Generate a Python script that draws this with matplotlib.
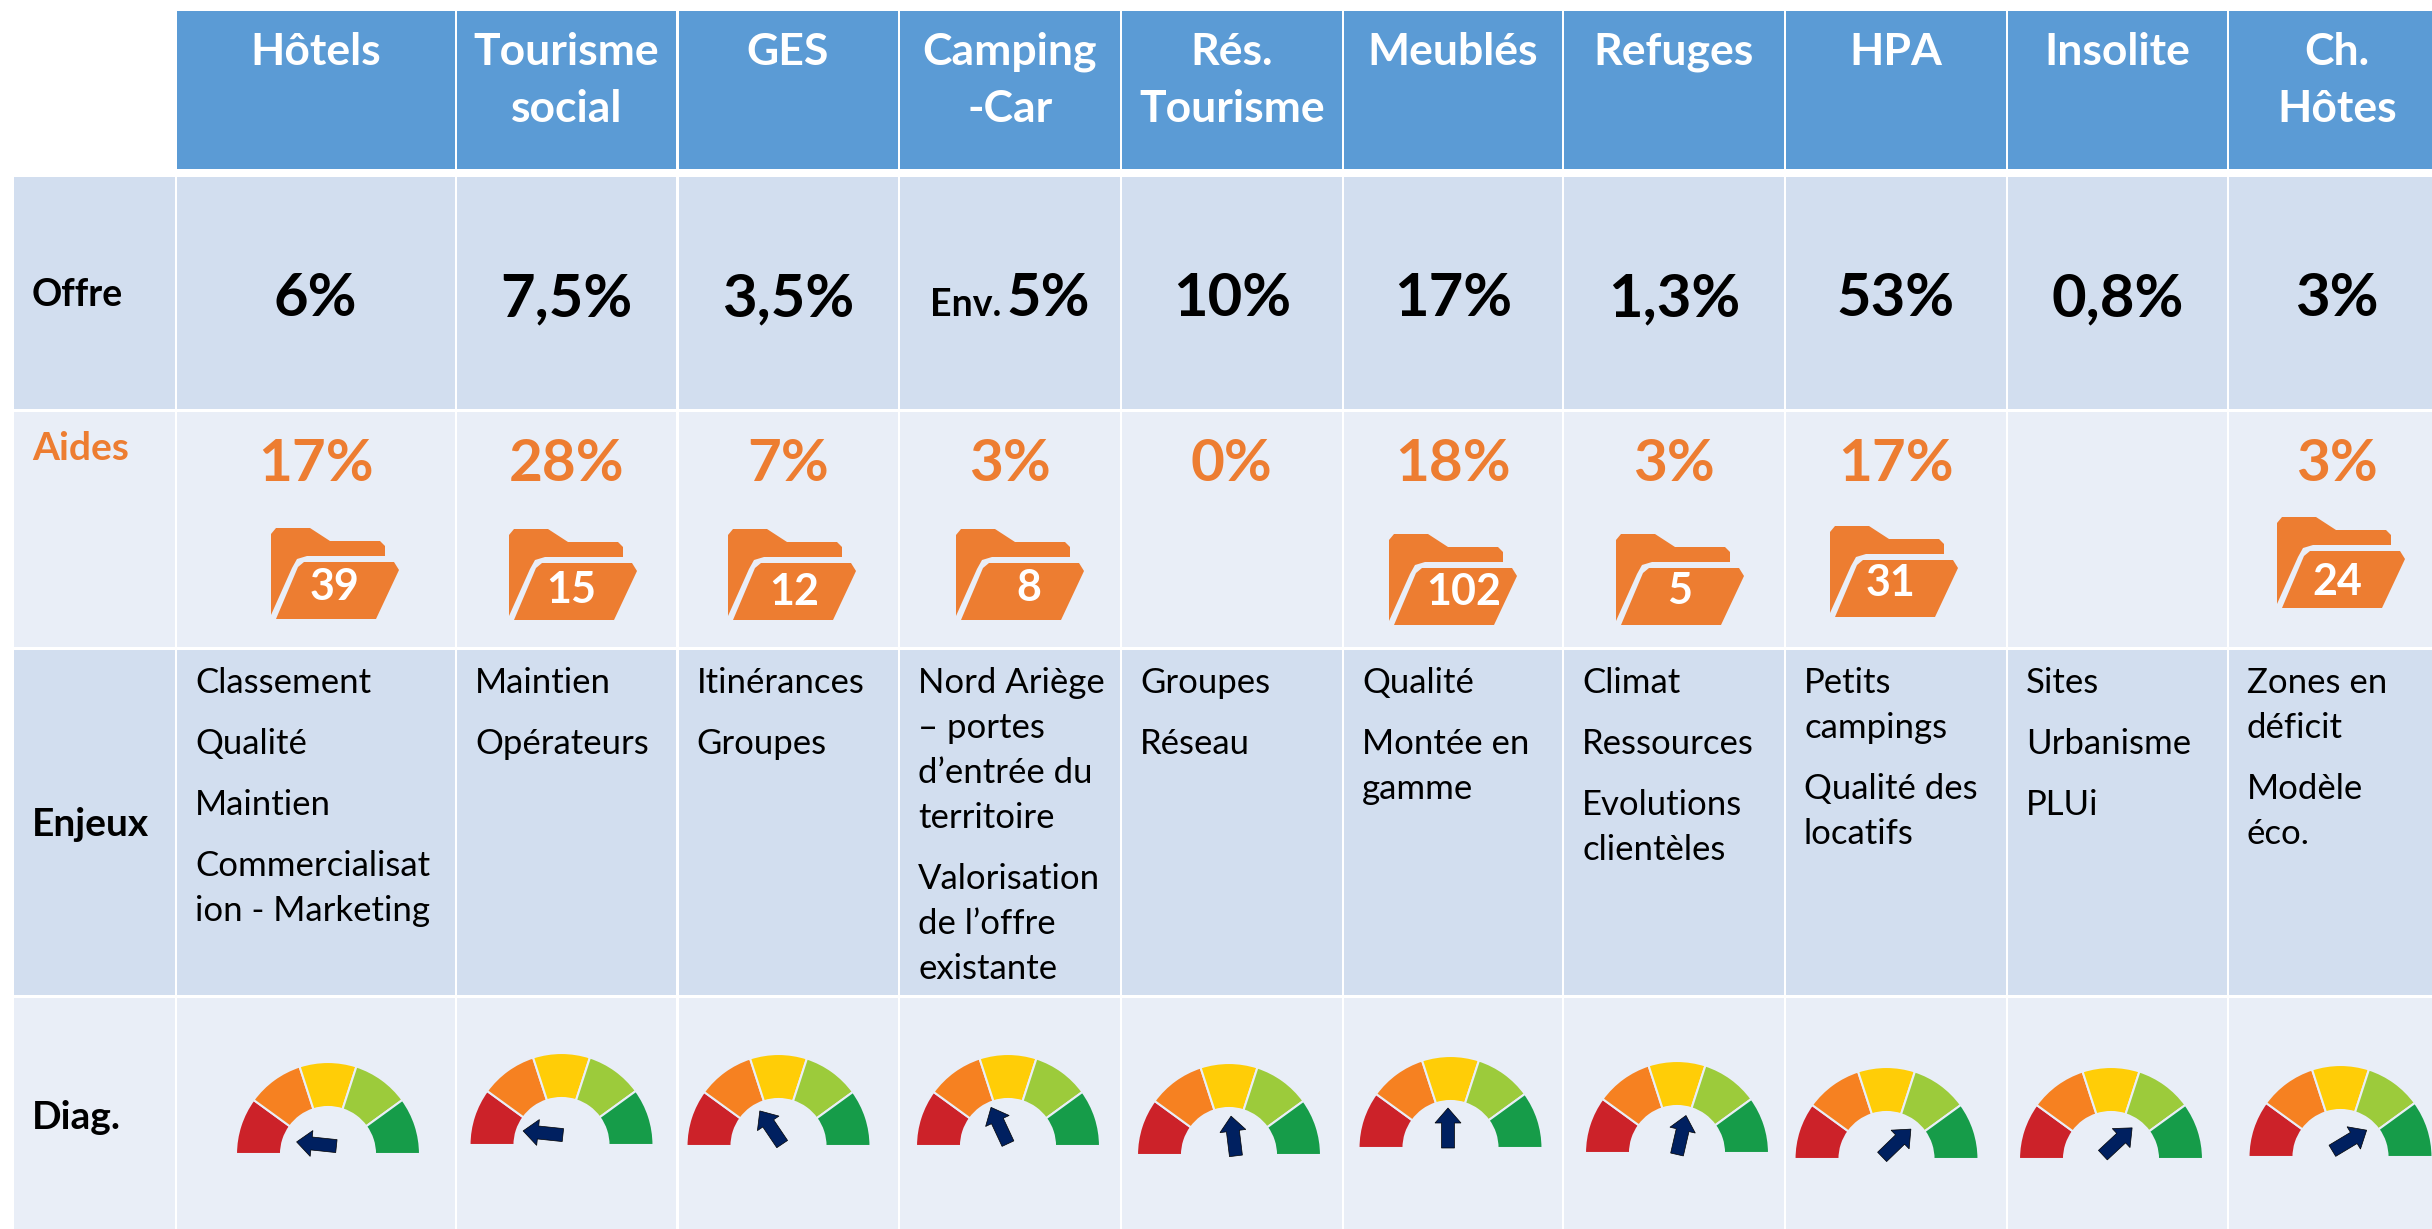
import matplotlib
matplotlib.use('Agg')
import matplotlib.pyplot as plt
from matplotlib.patches import Rectangle, Wedge, Polygon, FancyArrow
import numpy as np

plt.rcParams['font.family'] = ['Lato', 'DejaVu Sans']

# contenu du tableau
entetes = [['Hôtels'], ['Tourisme', 'social'], ['GES'], ['Camping', '-Car'], ['Rés.', 'Tourisme'],
           ['Meublés'], ['Refuges'], ['HPA'], ['Insolite'], ['Ch.', 'Hôtes']]
offre = ['6%', '7,5%', '3,5%', '5%', '10%', '17%', '1,3%', '53%', '0,8%', '3%']
aides = ['17%', '28%', '7%', '3%', '0%', '18%', '3%', '17%', '', '3%']
dossiers = [39, 15, 12, 8, None, 102, 5, 31, None, 24]
enjeux = [
    [['Classement'], ['Qualité'], ['Maintien'], ['Commercialisat', 'ion - Marketing']],
    [['Maintien'], ['Opérateurs']],
    [['Itinérances'], ['Groupes']],
    [['Nord Ariège', '– portes', 'd’entrée du', 'territoire'], ['Valorisation', 'de l’offre', 'existante']],
    [['Groupes'], ['Réseau']],
    [['Qualité'], ['Montée en', 'gamme']],
    [['Climat'], ['Ressources'], ['Evolutions', 'clientèles']],
    [['Petits', 'campings'], ['Qualité des', 'locatifs']],
    [['Sites'], ['Urbanisme'], ['PLUi']],
    [['Zones en', 'déficit'], ['Modèle', 'éco.']],
]
# angle de la fleche de chaque jauge, en degres
diag = [174, 174, 124, 115, 97, 90, 77, 44, 43, 31]

# mise en page, en pixels de l'image
bords = [177, 457, 678.5, 900, 1122, 1344, 1564, 1786, 2008, 2229, 2447]
lignes = [(11, 169), (177, 409), (412, 647), (650, 995), (998, 1240)]
dossier_pos = [(271, 528), (509, 529), (728, 529), (956, 529), None, (1389, 534),
               (1616, 534), (1830, 526), None, (2277, 517)]
dossier_txt = [(64, 59), (62, 61), (66, 63), (73, 59), None, (75, 58), (64, 57), (61, 57), None, (60, 65)]
jauge_x = [328, 561.5, 778.5, 1008, 1229, 1450.5, 1677, 1886.5, 2111, 2340.5]
jauge_y = [1154, 1145, 1146, 1146, 1155, 1148, 1153, 1159, 1159, 1157]
fleche_dec = [(-11.5, -10), (-18.5, -12), (-7.5, -18.5), (-8.5, -20.5), (4.5, -19),
              (-2.5, -20), (4.5, -18), (10, -16), (6.5, -17.5), (9, -16.5)]

BLEU = '#5B9BD5'
FONCE = '#D2DEEF'
CLAIR = '#E9EEF7'
ORANGE = '#ED7D31'
couleurs_jauge = ['#CC2229', '#F68121', '#FFCD07', '#9CCB3B', '#169C49']

fig = plt.figure(figsize=(24.32, 12.29), dpi=100)
ax = fig.add_axes([0, 0, 1, 1])
ax.set_xlim(0, 2432)
ax.set_ylim(1229, 0)
ax.axis('off')

fonds = [BLEU, FONCE, CLAIR, FONCE, CLAIR]
for l, (y0, y1) in enumerate(lignes):
    if l > 0:
        ax.add_patch(Rectangle((14, y0), 161, y1 - y0, fc=fonds[l], ec='none'))
    for c in range(10):
        x0 = bords[c]
        x1 = bords[c + 1] - 2.5
        ax.add_patch(Rectangle((x0, y0), x1 - x0, y1 - y0, fc=fonds[l], ec='none'))

ax.text(32, 306, 'Offre', fontsize=27, fontweight='bold', color='black')
ax.text(32, 460, 'Aides', fontsize=28, fontweight='bold', color=ORANGE)
ax.text(32, 836, 'Enjeux', fontsize=28, fontweight='bold', color='black')
ax.text(32, 1129, 'Diag.', fontsize=28, fontweight='bold', color='black')

dos_arriere = [(0, 6), (5, 0), (39, 0), (59, 13), (109, 13), (114, 18), (114, 28), (36, 28),
               (26, 31), (21, 40), (0, 87)]
dos_avant = [(33, 34), (123, 34), (128, 42), (105, 91), (5, 91), (27, 39)]

for c in range(10):
    xc = (bords[c] + bords[c + 1] - 2.5) / 2
    xg = bords[c] + 18

    y = 65
    for t in entetes[c]:
        ax.text(xc, y, t, fontsize=32, fontweight='bold', color='white', ha='center')
        y += 57

    if c == 3:
        ax.text(xc + 38, 316, offre[c], fontsize=43, fontweight='bold', ha='center')
        ax.text(xc - 44, 316, 'Env.', fontsize=27, fontweight='bold', ha='center')
    else:
        ax.text(xc, 316, offre[c], fontsize=43, fontweight='bold', ha='center')

    ax.text(xc, 481, aides[c], fontsize=42, fontweight='bold', color=ORANGE, ha='center')

    if dossiers[c] is not None:
        px, py = dossier_pos[c]
        ax.add_patch(Polygon(np.array(dos_arriere) + [px, py], fc=ORANGE, ec='none'))
        ax.add_patch(Polygon(np.array(dos_avant) + [px, py], fc=ORANGE, ec='none'))
        tx, ty = dossier_txt[c]
        ax.text(px + tx, py + ty, str(dossiers[c]), fontsize=31, fontweight='bold', color='white',
                ha='center', va='center')

    y = 693
    for para in enjeux[c]:
        for t in para:
            ax.text(xg, y, t, fontsize=25, color='black')
            y += 45
        y += 16

    gx = jauge_x[c]
    gy = jauge_y[c]
    for k in range(5):
        ax.add_patch(Wedge((gx, gy), 92, 180 + 36 * k, 216 + 36 * k, width=45,
                           fc=couleurs_jauge[k], ec=CLAIR, lw=1.5))
    a = np.radians(diag[c])
    ux, uy = np.cos(a), -np.sin(a)
    mx = gx + fleche_dec[c][0]
    my = gy + fleche_dec[c][1]
    ax.add_patch(FancyArrow(mx - 20 * ux, my - 20 * uy, 40 * ux, 40 * uy, width=13, head_width=26,
                            head_length=15, length_includes_head=True, fc='#002060', ec='black', lw=0.5))

fig.savefig('out.png', dpi=100)
